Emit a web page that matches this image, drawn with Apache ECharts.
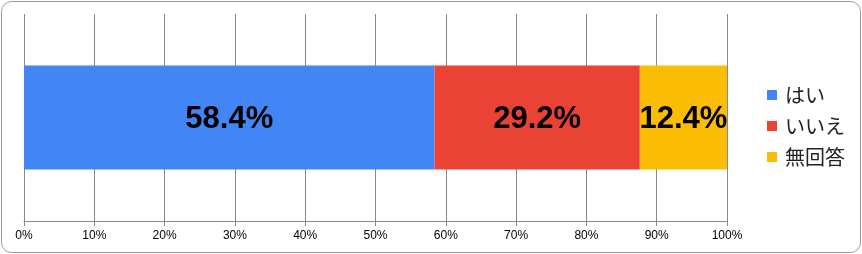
<!DOCTYPE html>
<html><head><meta charset="utf-8">
<script src="https://cdn.jsdelivr.net/npm/echarts@6/dist/echarts.min.js"></script>
<style>html,body{margin:0;padding:0;background:#fff;}#c{width:862px;height:254px;}</style>
</head><body><div id="c"></div>
<script>
const categories = ['回答'];
const seriesNames = ['はい', 'いいえ', '無回答'];
const seriesValues = [[58.4], [29.2], [12.4]];
const colors = ['#4285F4', '#EA4335', '#FBBC04'];
const xTicks = { min: 0, max: 100, interval: 10 };

const chart = echarts.init(document.getElementById('c'), null, { renderer: 'canvas' });
chart.setOption({
  animation: false,
  graphic: [{
    type: 'rect', left: 1, top: 1, z: -1,
    shape: { width: 859, height: 251, r: 10 },
    style: { fill: '#fff', stroke: '#999', lineWidth: 1 }
  }],
  grid: { left: 24, right: 135, top: 14, bottom: 33 },
  legend: {
    orient: 'vertical', left: 767, top: 85, itemWidth: 10, itemHeight: 10,
    itemGap: 11, icon: 'rect', padding: 0,
    textStyle: { fontSize: 20, lineHeight: 20, color: '#222', fontFamily: 'Noto Sans CJK JP', padding: [0, 0, 0, 3] },
    data: seriesNames
  },
  xAxis: {
    type: 'value', min: xTicks.min, max: xTicks.max, interval: xTicks.interval,
    axisLabel: { formatter: '{value}%', color: '#000', fontSize: 12, fontFamily: 'Arial, Liberation Sans', margin: 9 },
    axisLine: { show: true, lineStyle: { color: '#888' } },
    axisTick: { show: true, length: 5, lineStyle: { color: '#888' } },
    splitLine: { show: true, lineStyle: { color: '#888' } }
  },
  yAxis: {
    type: 'category', data: categories, show: false
  },
  series: seriesNames.map((n, i) => ({
    name: n, type: 'bar', stack: 'total', data: seriesValues[i], barWidth: 104,
    itemStyle: { color: colors[i] },
    label: { show: true, formatter: p => p.value.toFixed(1) + '%', fontSize: 31, fontWeight: 'bold', color: '#000', fontFamily: 'Arial, Liberation Sans', offset: [0, 2] }
  }))
});
</script></body></html>
